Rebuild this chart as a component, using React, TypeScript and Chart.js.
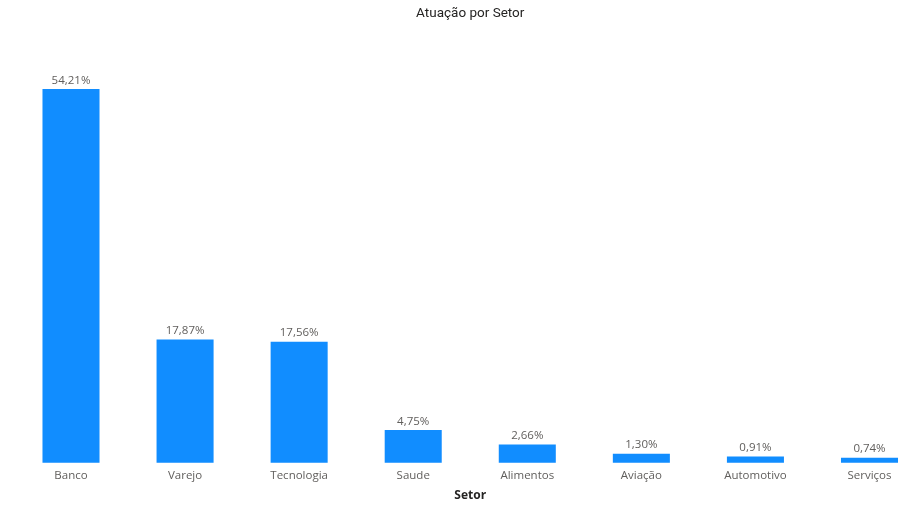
import React, { useEffect, useRef } from "react";
import { Chart, registerables } from "chart.js";

Chart.register(...registerables);

const categories = ["Banco", "Varejo", "Tecnologia", "Saude", "Alimentos", "Aviação", "Automotivo", "Serviços"];
const values = [54.21, 17.87, 17.56, 4.75, 2.66, 1.30, 0.91, 0.74];
const chartTitle = "Atuação por Setor";
const xTitle = "Setor";

const fmt = (v: number) => v.toFixed(2).replace(".", ",") + "%";

const labelPlugin = {
  id: "barLabels",
  afterDatasetsDraw(chart: any) {
    const ctx = chart.ctx;
    const meta = chart.getDatasetMeta(0);
    ctx.save();
    ctx.font = '11.5px "Open Sans"';
    ctx.fillStyle = "#605E5C";
    ctx.textAlign = "center";
    ctx.textBaseline = "bottom";
    meta.data.forEach((el: any, i: number) => {
      ctx.fillText(fmt(values[i]), el.x, el.y - 3);
    });
    ctx.restore();
  },
};

export default function App() {
  const ref = useRef<HTMLCanvasElement>(null);
  useEffect(() => {
    if (!ref.current) return;
    const chart = new Chart(ref.current, {
      type: "bar",
      data: {
        labels: categories,
        datasets: [
          {
            data: values,
            backgroundColor: "#118DFF",
            categoryPercentage: 0.5,
            barPercentage: 1,
            clip: false as any,
          },
        ],
      },
      options: {
        animation: false,
        responsive: true,
        maintainAspectRatio: false,
        layout: { padding: { left: 71, right: 36.5, top: 0, bottom: 4 } },
        plugins: {
          legend: { display: false },
          tooltip: { enabled: false },
          title: {
            display: true,
            text: chartTitle,
            color: "#252423",
            font: { family: "Roboto", size: 13.5, weight: "normal" },
            padding: { top: 6, bottom: 27 },
          },
        },
        scales: {
          x: {
            offset: false,
            grid: { display: false, drawTicks: false },
            border: { display: false },
            ticks: {
              color: "#605E5C",
              font: { family: "Open Sans", size: 11.5 },
              padding: 6,
              maxRotation: 0,
              autoSkip: false,
            },
            title: {
              display: true,
              text: xTitle,
              color: "#252423",
              font: { family: "Open Sans", size: 12, weight: "bold" },
              padding: { top: 0, bottom: 2 },
            },
          },
          y: {
            display: false,
            min: 0,
            max: 60,
          },
        },
      },
      plugins: [labelPlugin],
    });
    return () => chart.destroy();
  }, []);
  return (
    <div style={{ position: "fixed", left: 0, top: 0, width: 906, height: 509, background: "#fff" }}>
      <canvas ref={ref} />
    </div>
  );
}
